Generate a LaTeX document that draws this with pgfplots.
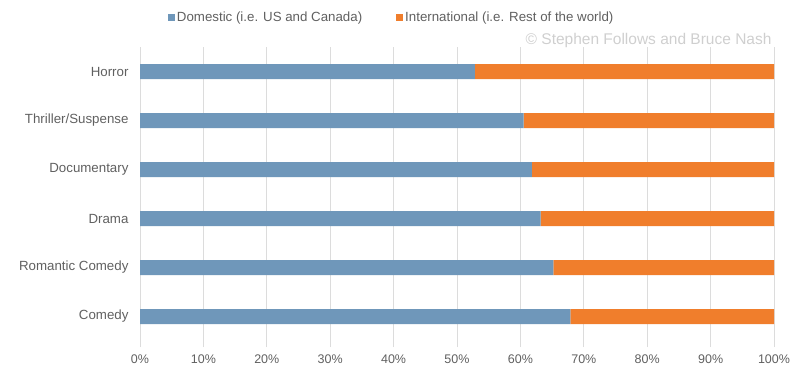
\documentclass[border=0pt]{standalone}
\usepackage{pgfplots}
\pgfplotsset{compat=1.18}
\usepackage{fontspec}
\setmainfont{Liberation Sans}
\definecolor{dom}{HTML}{6F97BA}
\definecolor{intl}{HTML}{F07E2C}
\definecolor{txt}{HTML}{606060}
\definecolor{gridc}{HTML}{DCDCDC}
\definecolor{wm}{HTML}{CFCFCF}
\begin{document}
\begin{tikzpicture}
\path[use as bounding box] (0pt,0pt) rectangle (794pt,-370pt);
\begin{axis}[
  at={(140pt,-341pt)}, anchor=south west,
  scale only axis, width=634pt, height=294pt,
  xbar stacked, bar width=15pt,
  xmin=0, xmax=100, ymin=-0.5, ymax=5.5,
  xtick={0,10,...,100},
  xticklabel={\pgfmathprintnumber{\tick}\%},
  ytick={0,1,2,3,4,5},
  yticklabels={Comedy,Romantic Comedy,Drama,Documentary,Thriller/Suspense,Horror},
  xmajorgrids, grid style={gridc, line width=0.8pt},
  axis line style={draw=none},
  major tick length=6pt,
  tick style={gridc, line width=0.8pt},
  xtick pos=bottom, xtick align=outside,
  ytick style={draw=none},
  /pgf/number format/assume math mode=true,
  xticklabel style={txt, font=\fontsize{12.5}{14}\selectfont, yshift=-4pt},
  yticklabel style={txt, font=\fontsize{13.3}{15}\selectfont, xshift=-8pt},
  legend style={at={(0.397,1.102)}, anchor=center, draw=none, fill=none,
    legend columns=2, font=\fontsize{13.3}{15}\selectfont, text=txt,
    /tikz/every even column/.append style={column sep=32pt}},
  legend image code/.code={\fill[#1] (2pt,-3.5pt) rectangle (9pt,3.5pt);},
]
\addplot[fill=dom, draw=none] coordinates {(67.9,0) (65.2,1) (63.2,2) (61.8,3) (60.5,4) (52.8,5)};
\addlegendentry{Domestic (i.e. US and Canada)}
\addplot[fill=intl, draw=none] coordinates {(32.1,0) (34.8,1) (36.8,2) (38.2,3) (39.5,4) (47.2,5)};
\addlegendentry{International (i.e. Rest of the world)}
\end{axis}
\node[anchor=east, text=wm, font=\fontsize{15.5}{17}\selectfont] at (775pt,-40pt) {\char"00A9\ Stephen Follows and Bruce Nash};
\end{tikzpicture}
\end{document}
